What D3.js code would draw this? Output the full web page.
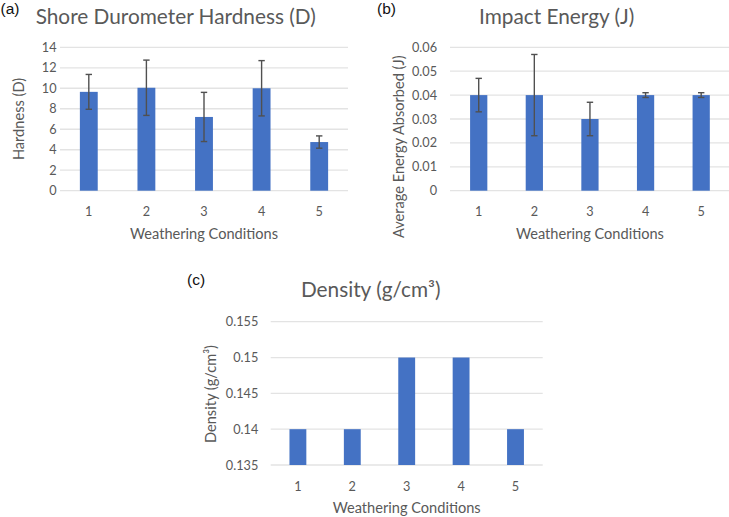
<!DOCTYPE html>
<html><head><meta charset="utf-8">
<script src="https://cdn.jsdelivr.net/npm/d3@7"></script>
<style>
html,body{margin:0;padding:0;background:#fff;}
svg{display:block;}
</style></head>
<body>
<svg id="chart" width="729" height="517"></svg>
<script>
// ---- data ----
const categories = ["1","2","3","4","5"];
const hardnessValues = [9.65, 10.05, 7.2, 10.0, 4.75];
const hardnessErrors = [1.7, 2.7, 2.4, 2.7, 0.6];
const hardnessTicks = [0,2,4,6,8,10,12,14];
const impactValues = [0.04, 0.04, 0.03, 0.04, 0.04];
const impactErrors = [0.007, 0.017, 0.007, 0.001, 0.001];
const impactTicks = [0,0.01,0.02,0.03,0.04,0.05,0.06];
const densityValues = [0.14, 0.14, 0.15, 0.15, 0.14];
const densityTicks = [0.135,0.14,0.145,0.15,0.155];

const svg = d3.select("#chart");
const FONT = "Lato, 'Open Sans', sans-serif";
const GRAY = "#595959";
const BAR = "#4472C4";

function panel(o){
  const g = svg.append("g");
  const x = d3.scaleBand().domain(categories).range([o.x0, o.x1]).paddingInner(0.69).paddingOuter(0.345);
  const y = d3.scaleLinear().domain([o.ticks[0], o.ticks[o.ticks.length-1]]).range([o.y0, o.y1]);
  // grid
  g.append("g").selectAll("line").data(o.ticks).join("line")
    .attr("x1", o.gx0 ?? o.x0).attr("x2", o.gx1 ?? o.x1)
    .attr("y1", d=>y(d)).attr("y2", d=>y(d))
    .attr("stroke", "#e3e3e3").attr("stroke-width", 1.3);
  // bars
  g.append("g").selectAll("rect").data(o.values).join("rect")
    .attr("x", (d,i)=>x(categories[i]))
    .attr("width", x.bandwidth())
    .attr("y", d=>y(d))
    .attr("height", d=>y(o.ticks[0]) - y(d))
    .attr("fill", BAR);
  // error bars
  if (o.errors){
    const eg = g.append("g").attr("stroke", "#505050").attr("stroke-width", 1.4).attr("fill","none");
    o.values.forEach((v,i)=>{
      const cx = x(categories[i]) + x.bandwidth()/2;
      const hi = y(v + o.errors[i]), lo = y(v - o.errors[i]);
      eg.append("line").attr("x1",cx).attr("x2",cx).attr("y1",hi).attr("y2",lo);
      eg.append("line").attr("x1",cx-3.2).attr("x2",cx+3.2).attr("y1",hi).attr("y2",hi);
      eg.append("line").attr("x1",cx-3.2).attr("x2",cx+3.2).attr("y1",lo).attr("y2",lo);
    });
  }
  // y tick labels
  g.append("g").selectAll("text").data(o.ticks).join("text")
    .attr("x", o.tickRight).attr("y", d=>y(d)).attr("dy","0.36em")
    .attr("text-anchor","end").attr("font-family",FONT).attr("font-size",12.7)
    .attr("fill",GRAY).text(d=>o.fmt(d));
  // x tick labels
  g.append("g").selectAll("text").data(categories).join("text")
    .attr("x", d=>x(d)+x.bandwidth()/2).attr("y", o.xTickY).attr("dy","0.36em")
    .attr("text-anchor","middle").attr("font-family",FONT).attr("font-size",12.7)
    .attr("fill",GRAY).text(d=>d);
  // x title
  g.append("text").attr("x",(o.x0+o.x1)/2).attr("y",o.xTitleY)
    .attr("text-anchor","middle").attr("font-family",FONT).attr("font-size",14.6)
    .attr("fill",GRAY).text("Weathering Conditions");
  // y title
  g.append("text").attr("transform",`translate(${o.yTitleX},${o.yTitleY}) rotate(-90)`)
    .attr("text-anchor","middle").attr("font-family",FONT).attr("font-size",14.6)
    .attr("fill",GRAY).text(o.yTitle);
  // chart title
  g.append("text").attr("x",o.titleX).attr("y",o.titleY)
    .attr("text-anchor","middle").attr("font-family",FONT).attr("font-size",20.8)
    .attr("fill",GRAY).text(o.title);
  // panel label
  g.append("text").attr("x",o.labelX).attr("y",o.labelY)
    .attr("font-family","'Liberation Sans', Arial, sans-serif").attr("font-size",15.5)
    .attr("fill","#111").text(o.label);
}

panel({x0:60, x1:348, y0:190.7, y1:47.3, ticks:hardnessTicks, values:hardnessValues, errors:hardnessErrors,
  fmt:d=>d3.format("d")(d), tickRight:56.5, xTickY:211, xTitleY:238.5, yTitleX:23.5, yTitleY:119,
  yTitle:"Hardness (D)", title:"Shore Durometer Hardness (D)", titleX:175.7, titleY:23.5, label:"(a)", labelX:0.5, labelY:14});

panel({x0:450.9, x1:729, gx0:450, gx1:729, y0:190.7, y1:47.3, ticks:impactTicks, values:impactValues, errors:impactErrors,
  fmt:d=>d===0?"0":d3.format(".2f")(d), tickRight:437, xTickY:211, xTitleY:238.5, yTitleX:403.5, yTitleY:146.7,
  yTitle:"Average Energy Absorbed (J)", title:"Impact Energy (J)", titleX:556.7, titleY:23.5, label:"(b)", labelX:377, labelY:14});

panel({x0:270.7, x1:542.7, y0:465, y1:321.7, ticks:densityTicks, values:densityValues, errors:null,
  fmt:d=>String(+d.toFixed(3)), tickRight:258.3, xTickY:486.7, xTitleY:513, yTitleX:215.5, yTitleY:394,
  yTitle:"Density (g/cm³)", title:"Density (g/cm³)", titleX:370.7, titleY:297.3, label:"(c)", labelX:187, labelY:285});
</script>
</body></html>
